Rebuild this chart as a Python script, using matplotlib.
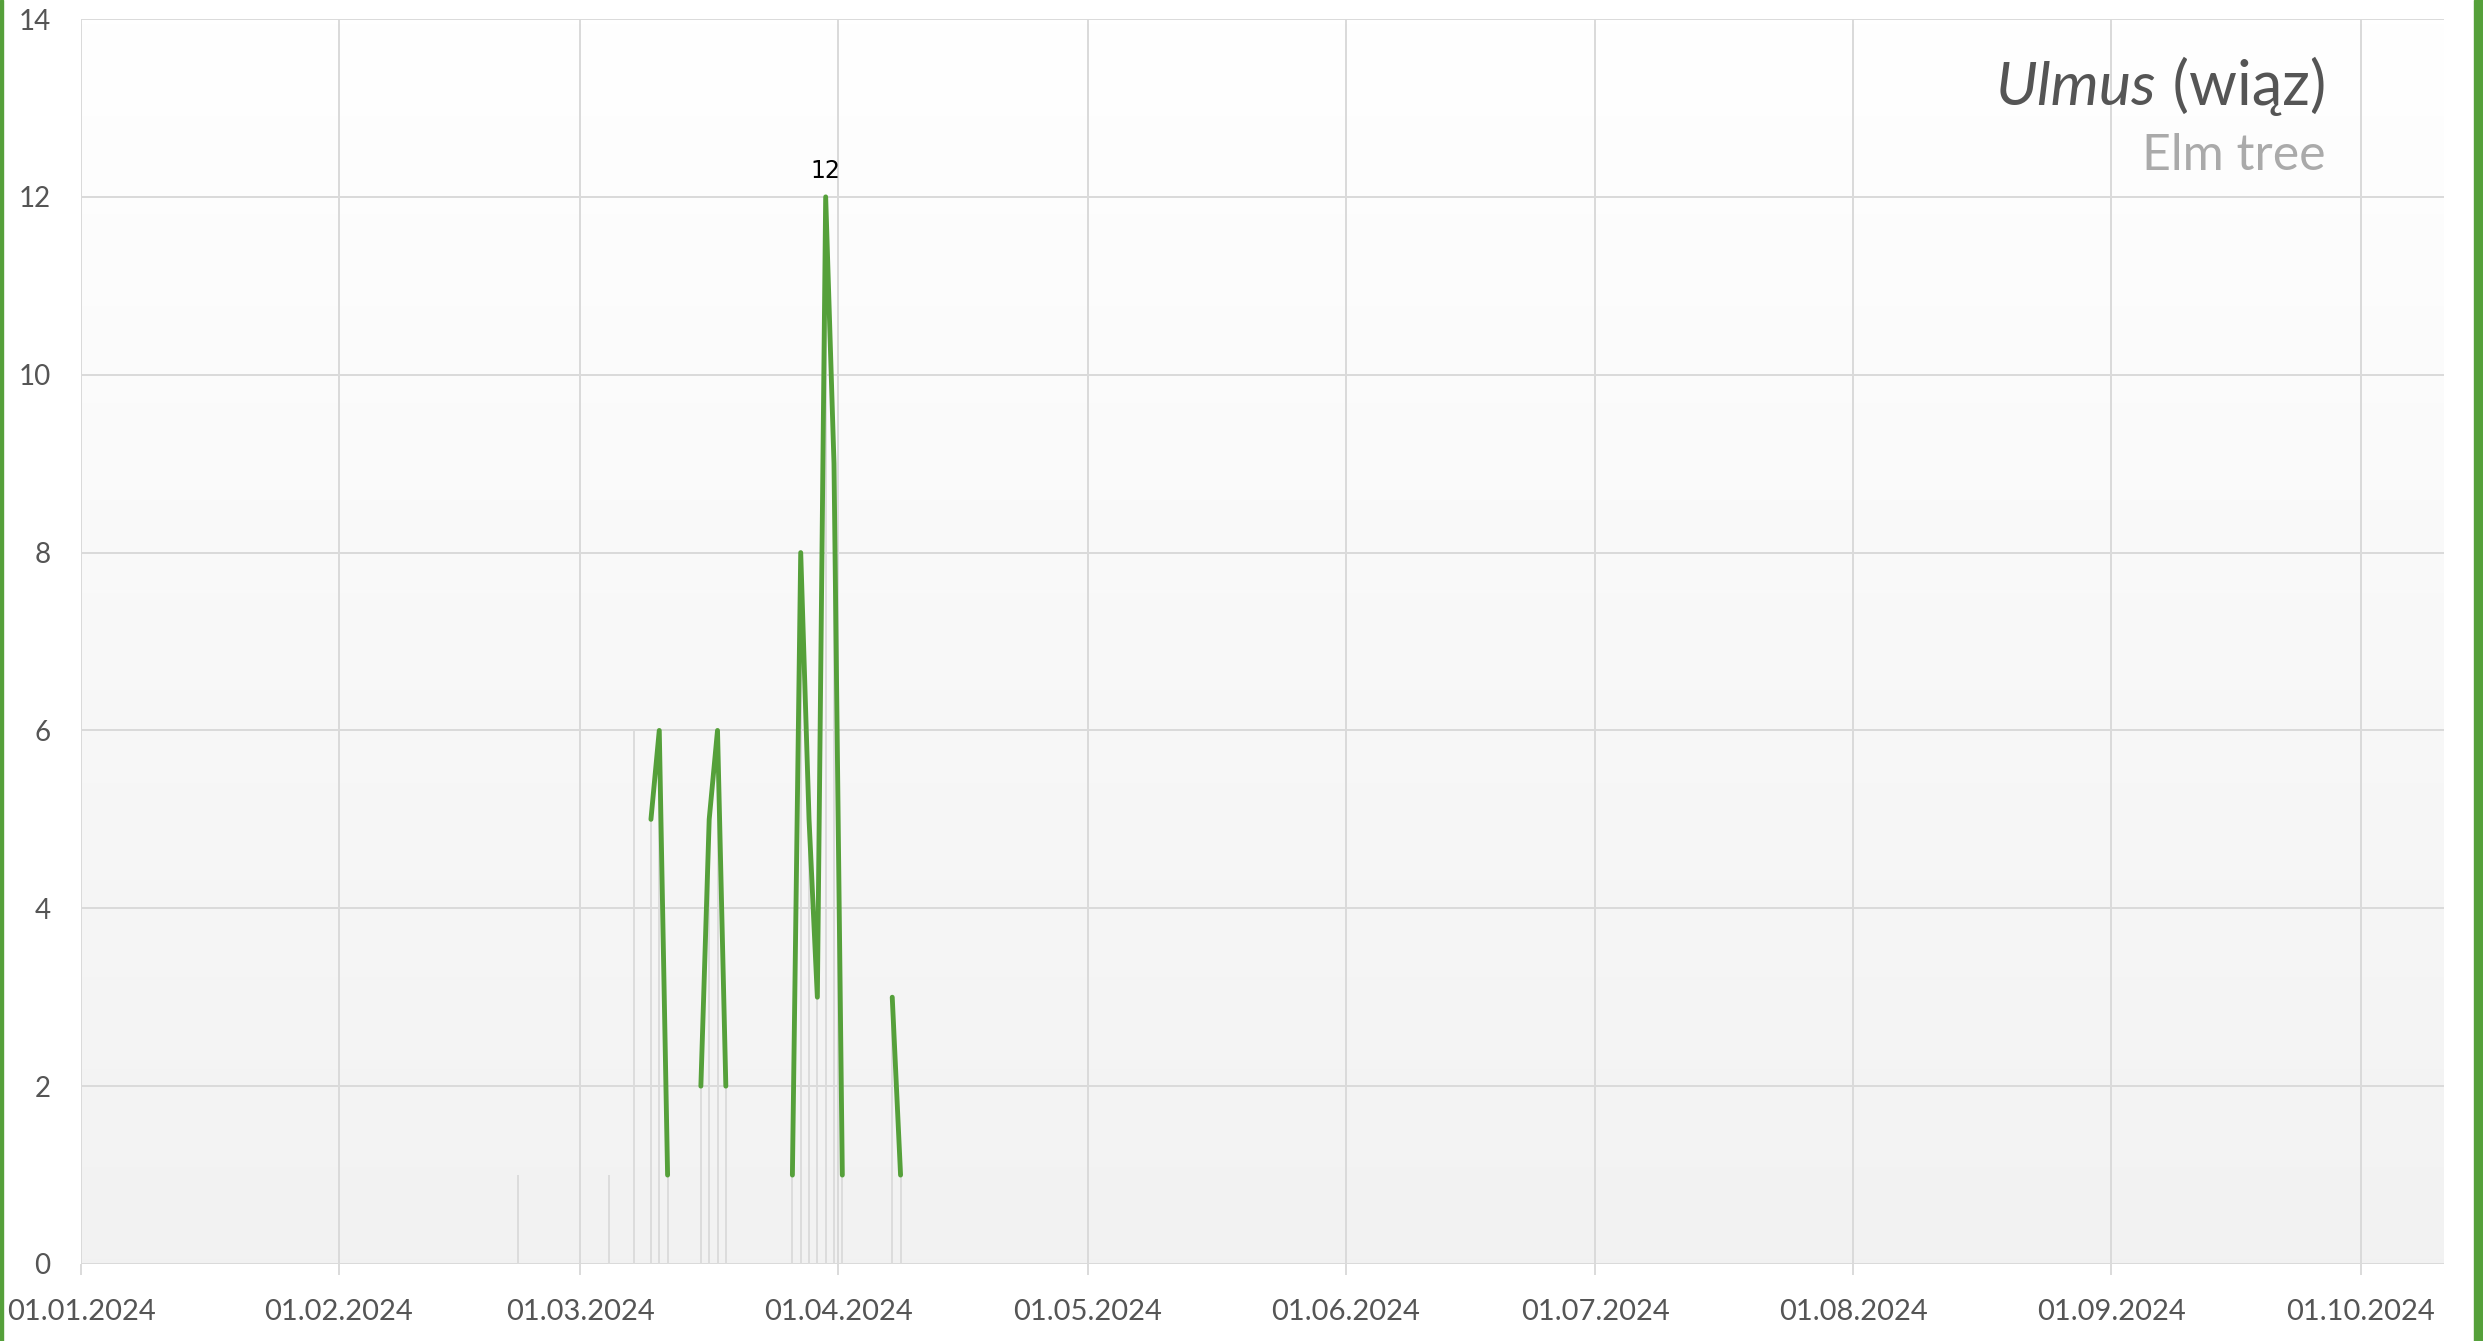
import matplotlib
matplotlib.use("Agg")
import matplotlib.pyplot as plt
import matplotlib.dates as mdates
import numpy as np
import pandas as pd
from matplotlib.patches import Rectangle

# ---- data ----
dates = ["2024-02-22", "2024-03-04", "2024-03-07", "2024-03-09", "2024-03-10",
         "2024-03-11", "2024-03-15", "2024-03-16", "2024-03-17", "2024-03-18",
         "2024-03-26", "2024-03-27", "2024-03-28", "2024-03-29", "2024-03-30",
         "2024-03-31", "2024-04-01", "2024-04-07", "2024-04-08"]
values = [1, 1, 6, 5, 6, 1, 2, 5, 6, 2, 1, 8, 5, 3, 12, 9, 1, 3, 1]
tick_labels = ["01.01.2024", "01.02.2024", "01.03.2024", "01.04.2024", "01.05.2024",
               "01.06.2024", "01.07.2024", "01.08.2024", "01.09.2024", "01.10.2024"]
title_latin = "Ulmus"
title_local = " (wiąz)"
subtitle = "Elm tree"

GREEN = "#55a03a"
GRID = "#dadada"
TXT = "#555555"

plt.rcParams['font.family'] = ['Lato', 'DejaVu Sans']

fig = plt.figure(figsize=(24.83, 13.41), dpi=100)
ax = fig.add_axes([81/2483, 1 - 1264/1341, (2444-81)/2483, (1264-19)/1341])

# background gradient
grad = np.linspace(1.0, 0.949, 256).reshape(-1, 1)
ax.imshow(np.dstack([grad, grad, grad]), extent=[0, 1, 0, 1], transform=ax.transAxes,
          aspect='auto', zorder=0, origin='upper')
ax.patch.set_visible(False)

idx = pd.to_datetime(dates) + pd.Timedelta(hours=12)
s = pd.Series(values, index=idx, dtype=float)
full = s.reindex(pd.date_range(idx.min(), idx.max(), freq='D'))

# drop lines
ax.vlines(s.index, 0, s.values, colors="#dcdcdc", linewidth=1.4, zorder=2)
# line
ax.plot(full.index, full.values, color=GREEN, linewidth=3.5, solid_capstyle='round',
        solid_joinstyle='round', zorder=3)

# max label
imax = int(np.argmax(values))
ax.annotate(f"{values[imax]}", (s.index[imax], values[imax]), xytext=(0, 10),
            textcoords='offset points', ha='center', va='bottom',
            fontsize=17, color='black', family=['DejaVu Sans'], zorder=4)

ax.set_xlim(pd.Timestamp("2024-01-01"), pd.Timestamp("2024-10-11"))
ax.set_ylim(0, 14)
ax.set_yticks(np.arange(0, 15, 2))
ax.set_yticklabels([str(v) for v in range(0, 15, 2)])
ticks = pd.to_datetime(["2024-%02d-01" % m for m in range(1, 11)])
ax.set_xticks(ticks)
ax.set_xticklabels(tick_labels)

ax.grid(True, color=GRID, linewidth=1.4, zorder=1)
ax.set_axisbelow(True)
for sp in ax.spines.values():
    sp.set_visible(False)
ax.tick_params(axis='x', direction='out', length=8, width=1.4, color=GRID,
               labelsize=21, labelcolor=TXT, pad=17)
ax.tick_params(axis='y', length=0, labelsize=20, labelcolor=TXT, pad=22)

# title
renderer = fig.canvas.get_renderer()
xr = 2326/2483
t2 = fig.text(xr, 1 - 105/1341, title_local, ha='right', va='baseline',
              fontsize=44, color=TXT)
bb = t2.get_window_extent(renderer)
fig.text(bb.x0 / fig.bbox.width, 1 - 105/1341, title_latin, ha='right', va='baseline',
         fontsize=44, color=TXT, fontstyle='italic')
fig.text(xr, 1 - 170/1341, subtitle, ha='right', va='baseline', fontsize=36,
         color="#aaaaaa")

# green side bars
fig.patches.append(Rectangle((0, 0), 3/2483, 1, transform=fig.transFigure,
                             color=GREEN, zorder=10))
fig.patches.append(Rectangle((2474/2483, 0), 9/2483, 1, transform=fig.transFigure,
                             color=GREEN, zorder=10))

fig.savefig("out.png", dpi=100, facecolor='white')
